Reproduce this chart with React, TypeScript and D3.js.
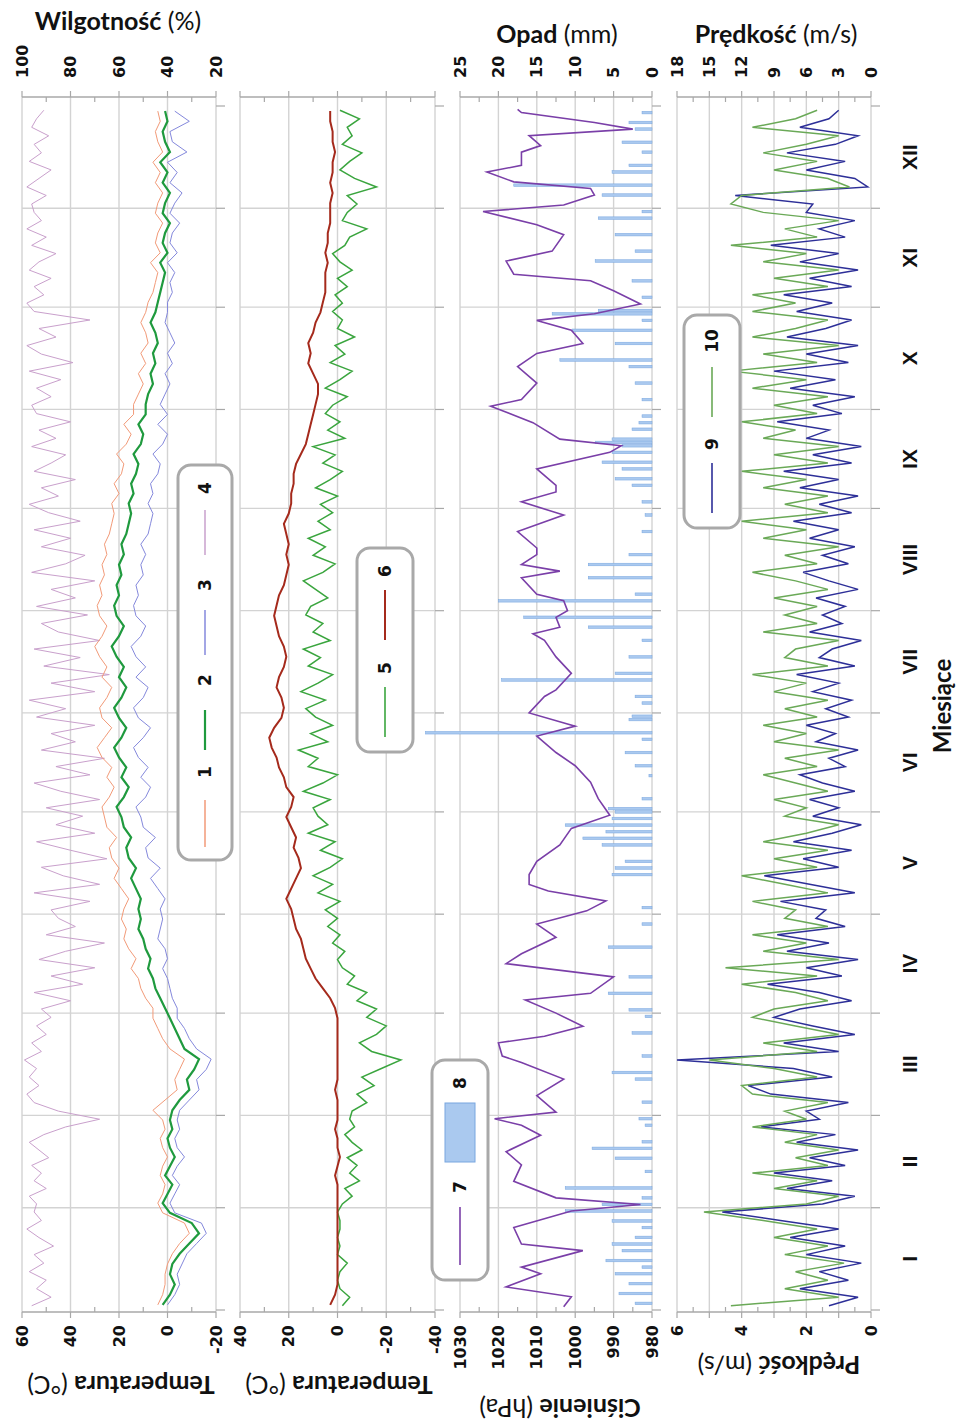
import React from "react";
import * as d3 from "d3";

// ---------- DATA ----------
const monthLabels = ["I", "II", "III", "IV", "V", "VI", "VII", "VIII", "IX", "X", "XI", "XII"];
const monthLengths = [31, 28, 31, 30, 31, 30, 31, 31, 30, 31, 30, 31];

// Series 1: max temperature (°C), one row per month
const tempMax = [
  [4, 2, 1, 1, 0, -2, -5, -9, -7, 2],
  [4, 2, 1, 3, 2, 0, 2, 3, 1, 2],
  [6, 1, -4, -3, -5, -7, -1, 2, 4, 6],
  [6, 9, 11, 12, 15, 13, 16, 18, 17, 19],
  [18, 16, 19, 22, 20, 23, 24, 21, 25, 26],
  [27, 24, 22, 25, 23, 27, 29, 26, 23, 27],
  [28, 25, 23, 27, 25, 28, 30, 27, 25, 28],
  [29, 27, 28, 26, 27, 25, 26, 24, 23, 22],
  [23, 20, 22, 19, 18, 21, 17, 15, 18, 14],
  [14, 12, 10, 12, 9, 11, 8, 9, 11, 9],
  [8, 6, 5, 4, 7, 3, 5, 4, 2, 5],
  [4, 2, 5, 3, 6, 2, 4, 5, 3, 4],
];
// Series 2: mean temperature (°C)
const tempMean = [
  [2, -1, -3, -1, -2, -5, -9, -13, -10, -1],
  [2, 0, -2, 1, -1, -3, -1, 0, -2, -1],
  [-2, -5, -9, -8, -11, -13, -7, -5, -3, -1],
  [1, 3, 5, 6, 8, 7, 9, 10, 12, 11],
  [12, 11, 13, 15, 13, 16, 17, 15, 18, 19],
  [21, 18, 16, 19, 17, 20, 22, 19, 17, 20],
  [22, 19, 17, 20, 18, 21, 23, 20, 18, 21],
  [22, 20, 21, 19, 20, 18, 19, 17, 16, 15],
  [16, 14, 15, 13, 12, 14, 11, 10, 12, 9],
  [9, 8, 6, 7, 5, 6, 4, 5, 7, 5],
  [4, 3, 2, 1, 3, 0, 2, 1, -1, 2],
  [1, -1, 2, 0, 3, -1, 1, 2, 0, 1],
];
// Series 3: min temperature (°C)
const tempMin = [
  [0, -3, -5, -4, -6, -8, -12, -16, -14, -3],
  [-1, -3, -5, -2, -4, -7, -4, -3, -5, -4],
  [-5, -9, -13, -12, -16, -18, -12, -9, -7, -4],
  [-4, -2, -1, 0, 2, 0, 1, 4, 3, 2],
  [3, 1, 4, 7, 3, 8, 9, 5, 10, 11],
  [13, 9, 7, 11, 8, 12, 14, 10, 7, 12],
  [14, 10, 8, 13, 9, 13, 15, 11, 9, 13],
  [14, 12, 13, 10, 11, 9, 11, 8, 7, 6],
  [8, 6, 7, 4, 3, 6, 2, 0, 4, 0],
  [3, 1, -1, 1, -2, 0, -3, -1, 1, 0],
  [0, -2, -1, -3, 0, -4, -1, -2, -5, -1],
  [-3, -6, -1, -4, 0, -8, -2, -1, -9, -3],
];
// Series 4: relative humidity (%)
const humidity = [
  [96, 88, 94, 90, 97, 91, 95, 87, 93, 98, 92, 95],
  [94, 97, 90, 95, 92, 96, 89, 93, 97, 91, 82, 68],
  [85, 95, 98, 93, 97, 94, 99, 92, 96, 90, 94, 88],
  [92, 80, 95, 75, 88, 70, 93, 82, 66, 90, 78, 85],
  [88, 72, 95, 68, 83, 92, 65, 80, 94, 70, 86, 75],
  [90, 68, 84, 95, 72, 86, 66, 92, 78, 88, 70, 94],
  [82, 97, 70, 88, 64, 91, 76, 95, 68, 85, 92, 73],
  [94, 78, 88, 70, 96, 82, 74, 92, 80, 95, 76, 89],
  [97, 85, 92, 78, 95, 88, 82, 96, 86, 93, 80, 94],
  [96, 88, 94, 84, 97, 79, 92, 98, 86, 93, 72, 95],
  [98, 91, 95, 88, 97, 93, 86, 96, 90, 98, 92, 95],
  [96, 90, 98, 93, 88, 97, 92, 95, 89, 96, 94, 91],
];
// Series 5: ground minimum temperature (°C)
const tempGround = [
  [-2, -5, -1, 0, -1, -4, 0, -1, 0, -1, -1, 0],
  [-2, -6, -3, -9, -5, -8, -4, -10, -6, -3, -7, -5],
  [-6, -12, -8, -15, -10, -18, -26, -14, -9, -16, -20, -12],
  [-16, -8, -12, -4, -7, -2, 0, -3, 2, -1, 4, 0],
  [5, -1, 8, 2, 10, 3, -2, 7, 1, 12, 4, 8],
  [10, 3, 14, 6, 0, 12, 8, 16, 4, 11, 2, 9],
  [13, 5, 15, 8, 2, 12, 7, 14, 3, 10, 6, 13],
  [11, 4, 9, 14, 6, 1, 10, 5, 12, 3, 8, 2],
  [7, 0, 9, 3, -2, 6, 1, 10, -3, 4, -1, 5],
  [2, -4, 5, -1, -6, 3, -3, 1, -7, 0, -2, 2],
  [-2, 1, -4, 0, -6, -1, 2, -3, -5, -12, -2, -4],
  [-8, -4, -16, -7, -1, -5, -10, -2, -6, -4, -9, -1],
];
// Series 6: soil temperature (°C)
const tempSoil = [
  [3, 1, 0, 0, 0, 0, 0, 0, 0, 0],
  [0, 0, 0, 1, 0, -1, 0, 0, 1, 0],
  [0, 0, 1, 0, 0, 0, 0, 0, 0, 0],
  [1, 3, 6, 9, 11, 13, 14, 15, 17, 18],
  [19, 21, 19, 17, 15, 16, 18, 17, 19, 21],
  [19, 18, 21, 22, 24, 25, 27, 28, 26, 23],
  [22, 23, 25, 24, 22, 21, 22, 24, 25, 26],
  [25, 24, 22, 21, 20, 21, 20, 21, 22, 20],
  [19, 19, 18, 18, 17, 15, 13, 12, 11, 10],
  [9, 8, 8, 10, 12, 11, 12, 10, 9, 7],
  [6, 5, 5, 5, 4, 5, 4, 4, 3, 3],
  [3, 2, 3, 2, 2, 1, 2, 2, 3, 3],
];
// Series 7: pressure (day of year, hPa)
const pressure: [number, number][] = [
  [1, 1003], [4, 1001], [7, 1018], [11, 1009], [13, 1014], [18, 998], [20, 1014], [25, 1016], [30, 1001], [32, 983],
  [34, 1005], [39, 1016], [44, 1014], [48, 1018], [53, 1009], [56, 1014], [58, 1021], [60, 1005], [65, 1010], [70, 1003],
  [75, 1014], [77, 1019], [81, 1020], [83, 1008], [86, 998], [90, 1005], [94, 1013], [96, 996], [101, 990], [105, 1018],
  [108, 1014], [113, 1005], [117, 1010], [121, 997], [124, 992], [127, 1007], [129, 1012], [132, 1012], [136, 1010], [141, 1004],
  [146, 1001], [150, 991], [155, 994], [160, 996], [165, 1000], [169, 1005], [174, 1010], [177, 1000], [181, 1012], [186, 1008],
  [188, 1005], [193, 1001], [198, 1005], [203, 1008], [205, 1011], [207, 1004], [210, 1005], [212, 1002], [215, 1003], [217, 1010],
  [222, 1014], [224, 1004], [226, 1014], [229, 1010], [231, 1010], [236, 1015], [241, 1003], [245, 1014], [248, 1005], [250, 1005],
  [255, 1010], [260, 991], [262, 988], [264, 1004], [269, 1011], [274, 1022], [276, 1014], [281, 1010], [286, 1015], [290, 1010],
  [293, 998], [297, 1001], [300, 1010], [302, 995], [305, 983], [309, 990], [312, 996], [314, 1016], [318, 1018], [321, 1006],
  [326, 1003], [329, 1010], [333, 1024], [335, 1003], [338, 995], [340, 996], [342, 1016], [345, 1023], [347, 1014], [351, 1014],
  [353, 1009], [356, 1012], [358, 985], [360, 995], [363, 1014], [364, 1015],
];
// Series 8: precipitation (day of year, mm)
const precipitation: [number, number][] = [
  [2, 2.2], [5, 4.3], [8, 3], [11, 4.8], [13, 1.3], [15, 6], [18, 3.9], [20, 5.2], [22, 2.2], [25, 1.3], [27, 5.2], [30, 11.3], [32, 6.5], [34, 1.3], [37, 11.3],
  [42, 0.9], [46, 4.8], [49, 7.8], [51, 1.3], [56, 0.9], [58, 1.7],
  [63, 1.3], [70, 2.2], [72, 5.2], [77, 1.3], [84, 2.6], [89, 0.9],
  [91, 3], [96, 5.7], [101, 3], [110, 5.7], [117, 1.3],
  [122, 1.3], [132, 5.2], [134, 4.8], [136, 3.5], [141, 6.5], [143, 9], [145, 6], [147, 11.3], [149, 5.2], [151, 4.8], [152, 5.7],
  [155, 1.3], [162, 0.4], [165, 2.2], [169, 3.5], [173, 1.3], [175, 29.5], [179, 3], [180, 2.6],
  [184, 1.3], [186, 2.2], [191, 19.6], [193, 4.8], [198, 3], [203, 1.3], [207, 8.3], [210, 16.7],
  [215, 20], [217, 2.2], [222, 8.3], [226, 8.3], [229, 3], [236, 1.3], [241, 0.9],
  [245, 1.3], [250, 2.6], [252, 4.8], [255, 3.9], [257, 6.5], [260, 5.2], [262, 3.9], [263, 7.4], [264, 5.2], [267, 2.6], [269, 1.7], [271, 1.3],
  [276, 1.3], [281, 2.2], [286, 3], [288, 12], [293, 4.8], [297, 10.4], [300, 1.3], [302, 13], [303, 7],
  [307, 1.3], [312, 2.6], [318, 7.4], [321, 2.2], [326, 4.8], [331, 7], [333, 1.3],
  [338, 6.5], [341, 18], [345, 5.2], [347, 3], [351, 1.3], [354, 3.9], [358, 2.2], [360, 3], [363, 1.3],
];
// Series 9: mean wind speed (m/s, left axis)
const windMean = [
  [1.3, 0.4, 2.2, 0.7, 1.6, 0.3, 2.0, 0.8, 2.5, 1.0, 2.8, 4.6],
  [1.5, 0.5, 2.6, 1.2, 3.0, 0.8, 1.9, 0.4, 2.3, 1.1, 3.4, 1.6],
  [2.0, 0.7, 3.1, 3.8, 1.2, 2.4, 6.0, 1.0, 2.7, 0.5, 1.8, 3.0],
  [2.2, 0.6, 1.6, 3.2, 0.9, 2.0, 0.4, 2.6, 1.3, 2.9, 0.8, 1.7],
  [1.4, 2.8, 0.5, 1.9, 3.3, 1.0, 2.1, 0.6, 2.4, 1.2, 0.3, 1.8],
  [1.0, 1.9, 0.5, 1.5, 2.2, 0.8, 1.3, 0.4, 1.7, 1.1, 2.0, 0.7],
  [1.4, 0.6, 1.8, 1.0, 2.3, 0.5, 1.6, 1.2, 0.3, 1.9, 0.9, 1.5],
  [0.8, 1.7, 0.4, 1.3, 2.1, 0.7, 1.5, 0.5, 1.9, 1.0, 2.4, 0.6],
  [1.6, 0.4, 2.2, 1.0, 2.7, 0.6, 1.8, 0.3, 2.0, 1.3, 2.9, 0.9],
  [1.8, 0.5, 2.5, 1.1, 3.0, 0.7, 2.0, 0.4, 2.6, 1.4, 0.6, 2.3],
  [1.2, 2.7, 0.6, 1.9, 0.4, 2.2, 1.0, 3.1, 0.8, 1.6, 0.5, 2.0],
  [1.8, 4.2, 0.1, 0.5, 2.0, 0.8, 2.6, 1.1, 0.4, 2.2, 1.3, 1.0],
];
// Series 10: max wind speed (m/s, right axis)
const windMax = [
  [13, 3, 8, 4, 7, 2.5, 8, 4, 9, 5, 10, 15.5],
  [6, 3, 9, 5, 11, 4, 7, 3, 8, 5, 11, 6],
  [8, 4, 11, 12, 5, 9, 15, 5, 10, 3, 7, 11],
  [9, 4, 7, 12, 5, 13.5, 3, 10, 6, 11, 4, 8],
  [7, 11, 4, 8, 12, 5, 9, 4, 10, 6, 3, 8],
  [6, 9, 4, 7, 10, 5, 8, 3, 9, 6, 10, 5],
  [8, 4, 9, 6, 11, 4, 8, 7, 3, 10, 5, 8],
  [5, 9, 4, 7, 11, 5, 8, 3, 10, 6, 12, 4],
  [8, 4, 10, 6, 12, 4, 9, 3, 10, 7, 12, 5],
  [9, 4, 11, 6, 13, 5, 10, 3, 11, 7, 4, 11],
  [7, 11, 4, 9, 3, 10, 6, 13, 5, 8, 3, 10],
  [13, 12, 2, 4, 9, 5, 10, 6, 3, 11, 7, 5],
];

// Axis ticks
const temp1Ticks = [60, 40, 20, 0, -20];
const humidityTicks = [100, 80, 60, 40, 20];
const temp2Ticks = [40, 20, 0, -20, -40];
const pressureTicks = [1030, 1020, 1010, 1000, 990, 980];
const precipTicks = [25, 20, 15, 10, 5, 0];
const windTicks = [6, 4, 2, 0];
const gustTicks = [18, 15, 12, 9, 6, 3, 0];

// ---------- STYLE ----------
const C1 = "#f29a78";
const C2 = "#1f9a3e";
const C3 = "#8488dc";
const C4 = "#c9a0cc";
const C5 = "#3aa53e";
const C6 = "#a52a1c";
const C7 = "#7a3fa8";
const C8F = "#aac9ef";
const C8S = "#78a6df";
const C9 = "#2d2f98";
const C10 = "#6aa957";
const GRID = "#d3d3d3";
const AXIS = "#a8a8a8";
const TICKFONT = "'DejaVu Sans', Verdana, sans-serif";
const TITLEFONT = "Lato, 'Open Sans', sans-serif";

export default function App() {
  const cum = Array.from(d3.cumsum([0, ...monthLengths]));
  const x = d3.scaleLinear().domain([0, 365]).range([113, 1317]);
  const FL = 111;
  const FR = 1326;

  const spread = (rows: number[][]): [number, number][] =>
    rows.flatMap((row, m) =>
      row.map((v, j) => [cum[m] + ((j + 0.5) * monthLengths[m]) / row.length, v] as [number, number])
    );

  const yT1 = d3.scaleLinear().domain([-20, 60]).range([216, 22]);
  const yH = d3.scaleLinear().domain([20, 100]).range([216, 22]);
  const yT2 = d3.scaleLinear().domain([-40, 40]).range([435, 240]);
  const yP = d3.scaleLinear().domain([980, 1030]).range([652, 460]);
  const yR = d3.scaleLinear().domain([0, 25]).range([652, 460]);
  const yW = d3.scaleLinear().domain([0, 6]).range([871, 677]);
  const yG = d3.scaleLinear().domain([0, 18]).range([871, 677]);

  const path = (data: [number, number][], ys: d3.ScaleLinear<number, number>) =>
    d3
      .line<[number, number]>()
      .x((d) => x(d[0]))
      .y((d) => ys(d[1]))(data) ?? "";

  const panels = [
    { top: 22, bottom: 216, grid: yT1, gridTicks: temp1Ticks, left: { s: yT1, t: temp1Ticks }, right: { s: yH, t: humidityTicks } },
    { top: 240, bottom: 435, grid: yT2, gridTicks: temp2Ticks, left: { s: yT2, t: temp2Ticks }, right: null },
    { top: 460, bottom: 652, grid: yP, gridTicks: pressureTicks, left: { s: yP, t: pressureTicks }, right: { s: yR, t: precipTicks } },
    { top: 677, bottom: 871, grid: yG, gridTicks: gustTicks, left: { s: yW, t: windTicks }, right: { s: yG, t: gustTicks } },
  ];

  const legendText = (lx: number, ly: number, s: string) => (
    <text x={lx} y={ly} textAnchor="middle" dominantBaseline="central" fontFamily={TICKFONT} fontWeight="bold" fontSize={17} fill="#111">
      {s}
    </text>
  );

  return (
    <svg width={958} height={1423} style={{ position: "absolute", left: 0, top: 0, background: "#fff" }}>
      <rect x={0} y={0} width={958} height={1423} fill="#fff" />
      <g transform="translate(0,1423) rotate(-90)">
        {/* panels: grids, axes */}
        {panels.map((p, i) => {
          const mids = p.gridTicks.slice(1).map((t, k) => (t + p.gridTicks[k]) / 2);
          return (
            <g key={"p" + i}>
              {cum.slice(1, 12).map((d, k) => (
                <line key={"mg" + k} x1={x(d)} x2={x(d)} y1={p.top} y2={p.bottom} stroke={GRID} strokeWidth={1.3} />
              ))}
              {p.gridTicks.map((t) => (
                <line key={"vg" + t} x1={FL} x2={FR} y1={p.grid(t)} y2={p.grid(t)} stroke={GRID} strokeWidth={1.4} />
              ))}
              {cum.map((d, k) => (
                <line key={"mt" + k} x1={x(d)} x2={x(d)} y1={p.bottom} y2={p.bottom + 9} stroke={AXIS} strokeWidth={1.2} />
              ))}
              <line x1={FL} x2={FL} y1={p.top} y2={p.bottom} stroke={AXIS} strokeWidth={1.4} />
              <line x1={FR} x2={FR} y1={p.top} y2={p.bottom} stroke={AXIS} strokeWidth={1.4} />
              {p.gridTicks.map((t) => (
                <g key={"tk" + t}>
                  <line x1={FL - 6} x2={FL} y1={p.grid(t)} y2={p.grid(t)} stroke={AXIS} strokeWidth={1.2} />
                  <line x1={FR} x2={FR + 6} y1={p.grid(t)} y2={p.grid(t)} stroke={AXIS} strokeWidth={1.2} />
                </g>
              ))}
              {mids.map((t) => (
                <g key={"mn" + t}>
                  <line x1={FL} x2={FL + 5} y1={p.grid(t)} y2={p.grid(t)} stroke={AXIS} strokeWidth={1.2} />
                  <line x1={FR - 5} x2={FR} y1={p.grid(t)} y2={p.grid(t)} stroke={AXIS} strokeWidth={1.2} />
                </g>
              ))}
              {p.left.t.map((t) => (
                <text key={"lt" + t} x={98} y={p.left.s(t)} textAnchor="end" dominantBaseline="central" fontFamily={TICKFONT} fontWeight="bold" fontSize={16} fill="#111">
                  {t}
                </text>
              ))}
              {p.right &&
                p.right.t.map((t) => (
                  <text key={"rt" + t} x={1345} y={p.right!.s(t)} textAnchor="start" dominantBaseline="central" fontFamily={TICKFONT} fontWeight="bold" fontSize={16} fill="#111">
                    {t}
                  </text>
                ))}
            </g>
          );
        })}

        {/* Panel 1 series */}
        <path d={path(spread(humidity), yH)} fill="none" stroke={C4} strokeWidth={1} />
        <path d={path(spread(tempMax), yT1)} fill="none" stroke={C1} strokeWidth={1} />
        <path d={path(spread(tempMin), yT1)} fill="none" stroke={C3} strokeWidth={1} />
        <path d={path(spread(tempMean), yT1)} fill="none" stroke={C2} strokeWidth={2.2} />

        {/* Panel 2 series */}
        <path d={path(spread(tempGround), yT2)} fill="none" stroke={C5} strokeWidth={1.5} />
        <path d={path(spread(tempSoil), yT2)} fill="none" stroke={C6} strokeWidth={2} />

        {/* Panel 3 series */}
        {precipitation.map(([d, v], k) => (
          <rect key={"pr" + k} x={x(d) - 1.3} width={2.6} y={yR(v)} height={yR(0) - yR(v)} fill={C8F} stroke={C8S} strokeWidth={0.5} />
        ))}
        <path d={path(pressure, yP)} fill="none" stroke={C7} strokeWidth={1.6} />

        {/* Panel 4 series */}
        <path d={path(spread(windMean), yW)} fill="none" stroke={C9} strokeWidth={1.5} />
        <path d={path(spread(windMax), yG)} fill="none" stroke={C10} strokeWidth={1.5} />

        {/* month labels */}
        {monthLabels.map((m, k) => (
          <text key={"ml" + m} x={x((cum[k] + cum[k + 1]) / 2)} y={909} textAnchor="middle" dominantBaseline="central" fontFamily="'Liberation Sans', Arial, sans-serif" fontWeight="bold" fontSize={21} fill="#111">
            {m}
          </text>
        ))}
        <text x={717} y={941} textAnchor="middle" dominantBaseline="central" fontFamily={TITLEFONT} fontWeight="bold" fontSize={24} fill="#111">
          Miesiące
        </text>

        {/* left axis titles */}
        {[
          { t: "Temperatura", u: " (°C)", cx: 37, cy: 121 },
          { t: "Temperatura", u: " (°C)", cx: 37, cy: 339 },
          { t: "Ciśnienie", u: " (hPa)", cx: 14, cy: 560 },
          { t: "Prędkość", u: " (m/s)", cx: 57, cy: 779 },
        ].map((o, k) => (
          <text key={"lt" + k} transform={`translate(${o.cx},${o.cy}) rotate(-90)`} textAnchor="middle" dominantBaseline="central" fontFamily={TITLEFONT} fontSize={25} fill="#111">
            <tspan fontWeight="bold">{o.t}</tspan>
            <tspan fontWeight="normal">{o.u}</tspan>
          </text>
        ))}
        {/* right axis titles */}
        {[
          { t: "Wilgotność", u: " (%)", cx: 1403, cy: 118 },
          { t: "Opad", u: " (mm)", cx: 1390, cy: 557 },
          { t: "Prędkość", u: " (m/s)", cx: 1390, cy: 776 },
        ].map((o, k) => (
          <text key={"rt" + k} transform={`translate(${o.cx},${o.cy}) rotate(90)`} textAnchor="middle" dominantBaseline="central" fontFamily={TITLEFONT} fontSize={25} fill="#111">
            <tspan fontWeight="bold">{o.t}</tspan>
            <tspan fontWeight="normal">{o.u}</tspan>
          </text>
        ))}

        {/* legends */}
        <g>
          <rect x={563} y={178} width={395} height={54} rx={13} fill="#fff" stroke="#a9a9a9" strokeWidth={3} />
          <line x1={576} x2={623} y1={205} y2={205} stroke={C1} strokeWidth={1.5} />
          {legendText(651, 205, "1")}
          <line x1={673} x2={713} y1={205} y2={205} stroke={C2} strokeWidth={2.2} />
          {legendText(743, 205, "2")}
          <line x1={768} x2={813} y1={205} y2={205} stroke={C3} strokeWidth={1.5} />
          {legendText(838, 205, "3")}
          <line x1={868} x2={913} y1={205} y2={205} stroke={C4} strokeWidth={1.5} />
          {legendText(935, 205, "4")}
        </g>
        <g>
          <rect x={671} y={357} width={204} height={56} rx={13} fill="#fff" stroke="#a9a9a9" strokeWidth={3} />
          <line x1={686} x2={736} y1={385} y2={385} stroke={C5} strokeWidth={1.6} />
          {legendText(755, 385, "5")}
          <line x1={783} x2={833} y1={385} y2={385} stroke={C6} strokeWidth={2} />
          {legendText(852, 385, "6")}
        </g>
        <g>
          <rect x={895} y={684} width={213} height={56} rx={13} fill="#fff" stroke="#a9a9a9" strokeWidth={3} />
          <line x1={910} x2={960} y1={712} y2={712} stroke={C9} strokeWidth={1.6} />
          {legendText(979, 712, "9")}
          <line x1={1006} x2={1056} y1={712} y2={712} stroke={C10} strokeWidth={1.6} />
          {legendText(1082, 712, "10")}
        </g>
        <g>
          <rect x={143} y={432} width={220} height={56} rx={13} fill="#fff" stroke="#a9a9a9" strokeWidth={3} />
          <line x1={158} x2={216} y1={460} y2={460} stroke={C7} strokeWidth={1.6} />
          {legendText(236, 460, "7")}
          <rect x={261} y={445} width={59} height={30} fill={C8F} stroke={C8S} strokeWidth={1} />
          {legendText(340, 460, "8")}
        </g>
      </g>
    </svg>
  );
}
